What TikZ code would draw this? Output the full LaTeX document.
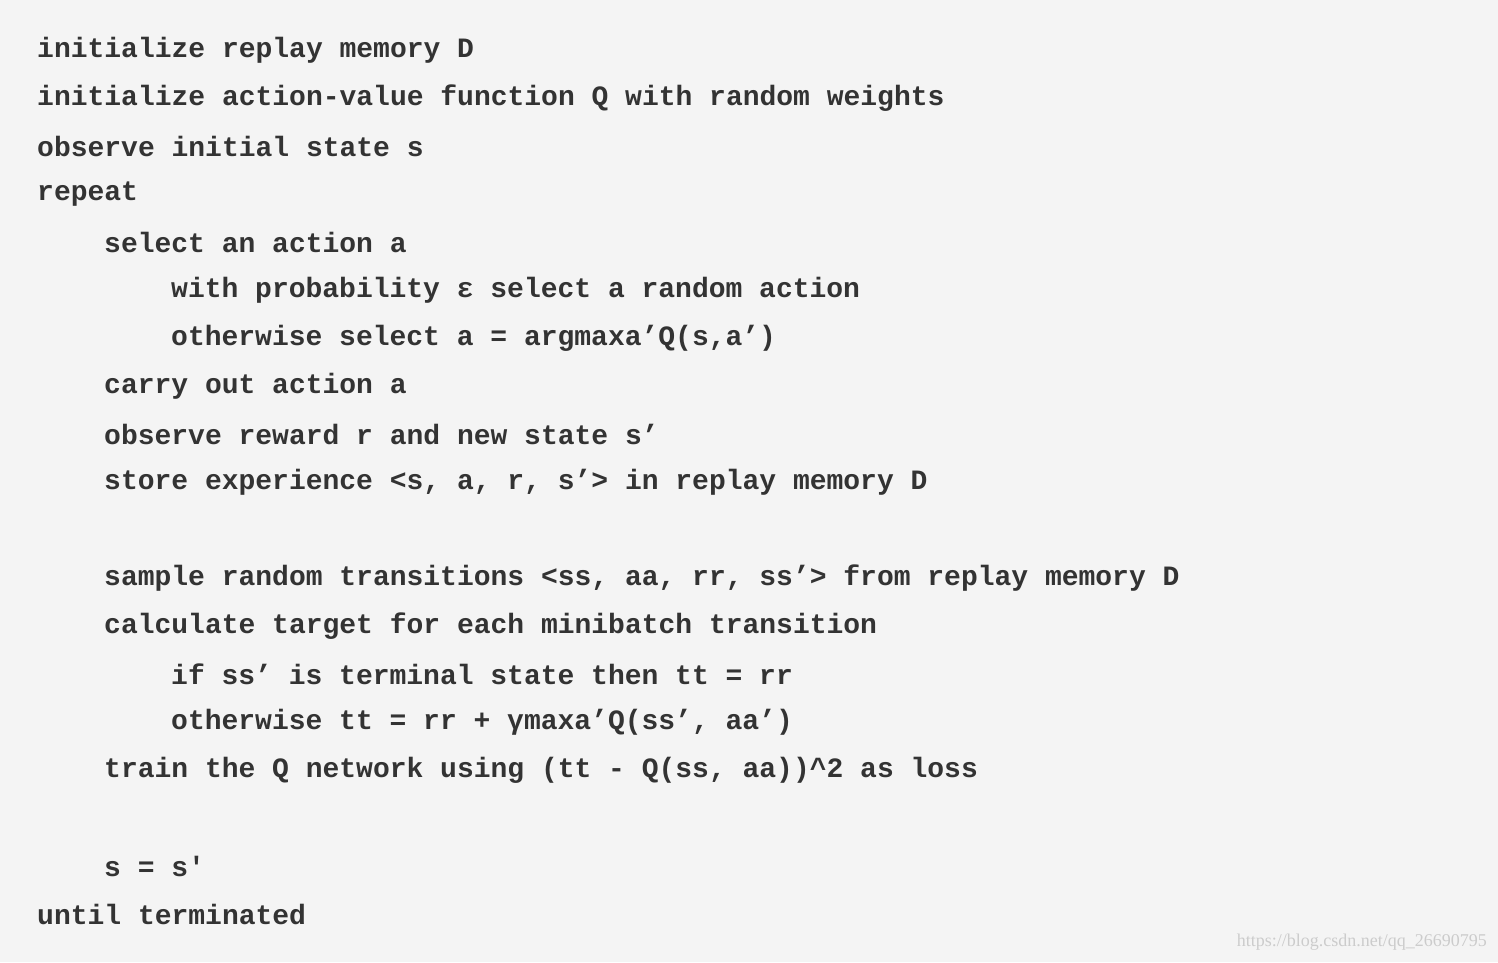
\documentclass[tikz,border=0pt]{standalone}
\usepackage{fontspec}
\setmonofont{Liberation Mono}
\setmainfont{Liberation Serif}
\definecolor{pagebg}{HTML}{F4F4F4}
\definecolor{codefg}{HTML}{333333}
\definecolor{markgray}{HTML}{CCCCCC}
\tikzset{
  codeline/.style={anchor=west, inner sep=0pt, text=codefg,
    font=\ttfamily\bfseries\fontsize{28}{30}\selectfont},
  watermark/.style={anchor=east, inner sep=0pt, text=markgray,
    font=\fontsize{18}{20}\selectfont}
}
\begin{document}
\begin{tikzpicture}[x=1pt, y=1pt]
  \fill[pagebg] (0,0) rectangle (1498,-962);
  \useasboundingbox (0,0) rectangle (1498,-962);

  % loop body indents: 37, 104, 171
  \node[codeline] (l1)  at (37,-50)  {initialize replay memory D};
  \node[codeline] (l2)  at (37,-98)  {initialize action-value function Q with random weights};
  \node[codeline] (l3)  at (37,-146) {observe initial state s};
  \node[codeline] (l4)  at (37,-194) {repeat};
  \node[codeline] (l5)  at (104,-242) {select an action a};
  \node[codeline] (l6)  at (171,-290) {with probability ε select a random action};
  \node[codeline] (l7)  at (171,-338) {otherwise select a = argmaxa’Q(s,a’)};
  \node[codeline] (l8)  at (104,-386) {carry out action a};
  \node[codeline] (l9)  at (104,-434) {observe reward r and new state s’};
  \node[codeline] (l10) at (104,-482) {store experience <s, a, r, s’> in replay memory D};
  \node[codeline] (l11) at (104,-578) {sample random transitions <ss, aa, rr, ss’> from replay memory D};
  \node[codeline] (l12) at (104,-626) {calculate target for each minibatch transition};
  \node[codeline] (l13) at (171,-674) {if ss’ is terminal state then tt = rr};
  \node[codeline] (l14) at (171,-722) {otherwise tt = rr + γmaxa’Q(ss’, aa’)};
  \node[codeline] (l15) at (104,-770) {train the Q network using (tt - Q(ss, aa))\^{}2 as loss};
  \node[codeline] (l16) at (104,-866) {s = s'};
  \node[codeline] (l17) at (37,-914) {until terminated};

  \node[watermark] (mark) at (1487,-942) {https://blog.csdn.net/qq\_26690795};
\end{tikzpicture}
\end{document}
